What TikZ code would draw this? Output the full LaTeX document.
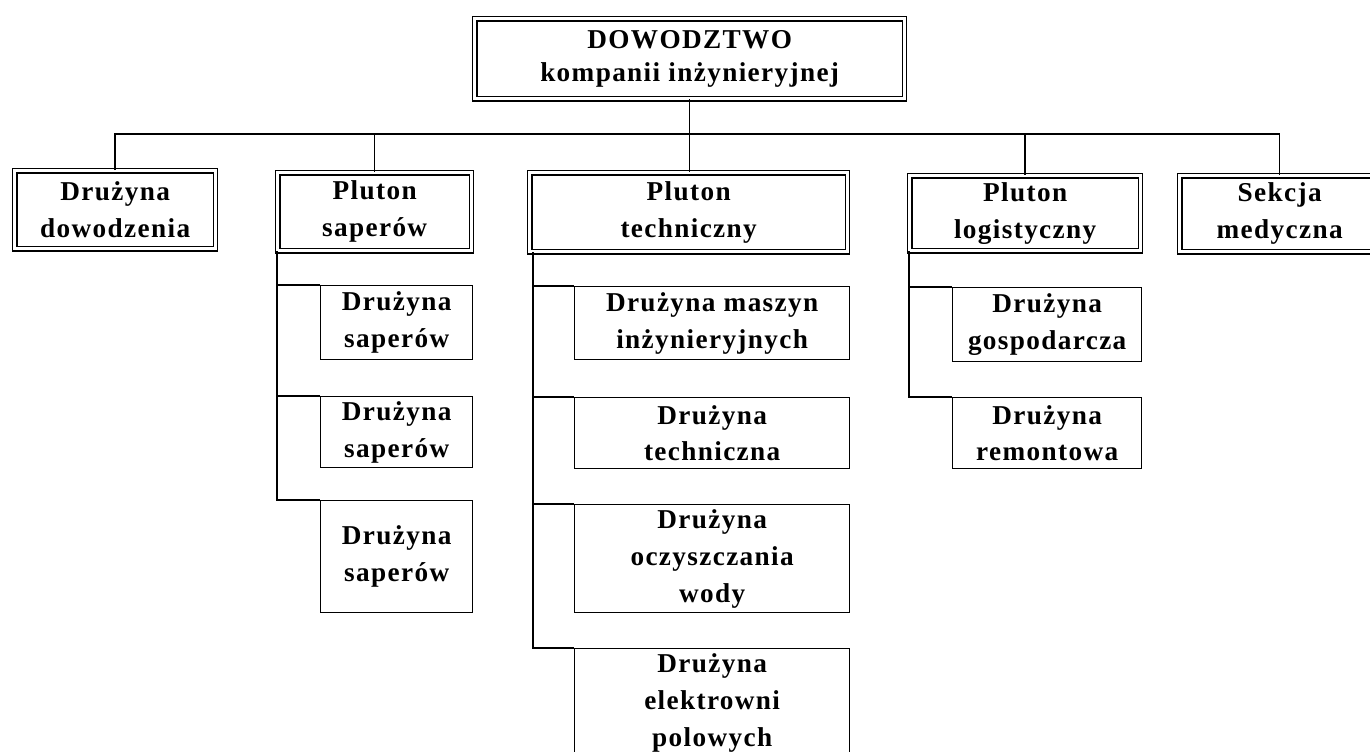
\documentclass[tikz,border=0pt]{standalone}
\usepackage{fontspec}
\setmainfont[LetterSpace=5]{Liberation Serif}
\usetikzlibrary{positioning}

\begin{document}
\begin{tikzpicture}[x=0.02cm, y=-0.02cm]
    \tikzstyle{unit} = [shape=rectangle, draw, line width=0.8pt, align=center, anchor=north west,
        inner sep=0pt, font=\bfseries\fontsize{15.5}{21}\selectfont]
    \tikzstyle{head} = [unit, double, double distance=1.6pt]
    \tikzstyle{link} = [line width=0.9pt]

    \useasboundingbox (0, 0) rectangle (1370, 751);
    \clip (0, 0) rectangle (1370, 751);

    \node[head, minimum width=8.6cm, minimum height=1.6cm,
        font=\bfseries\fontsize{15.5}{19}\selectfont] (top) at (474, 18)
        {DOWODZTWO\\kompanii inżynieryjnej};

    \node[head, minimum width=4.02cm, minimum height=1.56cm] (dd) at (14, 170)   {Drużyna\\dowodzenia};
    \node[head, minimum width=3.88cm, minimum height=1.56cm] (ps) at (277, 172)  {Pluton\\saperów};
    \node[head, minimum width=6.36cm, minimum height=1.58cm] (pt) at (529, 172)  {Pluton\\techniczny};
    \node[head, minimum width=4.62cm, minimum height=1.50cm] (pl) at (909, 175)  {Pluton\\logistyczny};
    \node[head, minimum width=4.00cm, minimum height=1.52cm] (sm) at (1179, 175) {Sekcja\\medyczna};

        \node[unit, minimum width=3.04cm, minimum height=1.48cm] (ps1) at (320, 285) {Drużyna\\saperów};
        \node[unit, minimum width=3.04cm, minimum height=1.42cm] (ps2) at (320, 396) {Drużyna\\saperów};
        \node[unit, minimum width=3.04cm, minimum height=2.24cm] (ps3) at (320, 500) {Drużyna\\saperów};

        \node[unit, minimum width=5.5cm, minimum height=1.46cm] (pt1) at (574, 286) {Drużyna maszyn\\inżynieryjnych};
        \node[unit, minimum width=5.5cm, minimum height=1.42cm] (pt2) at (574, 397) {Drużyna\\techniczna};
        \node[unit, minimum width=5.5cm, minimum height=2.16cm] (pt3) at (574, 504) {Drużyna\\oczyszczania\\wody};
        \node[unit, minimum width=5.5cm, minimum height=2.16cm] (pt4) at (574, 648) {Drużyna\\elektrowni\\polowych};

        \node[unit, minimum width=3.78cm, minimum height=1.48cm] (pl1) at (952, 287) {Drużyna\\gospodarcza};
        \node[unit, minimum width=3.78cm, minimum height=1.42cm] (pl2) at (952, 397) {Drużyna\\remontowa};

    \coordinate (bus) at (689, 134);
    \draw[link] (top.south) -- (top.south |- pt.north);
    \foreach \n in {dd, ps, pl, sm}
        \draw[link] (\n.north) |- (bus);

    \foreach \n in {ps1, ps2, ps3}
        \draw[link] (ps.south west) |- (\n.north west);
    \foreach \n in {pt1, pt2, pt3, pt4}
        \draw[link] ([xshift=0.8mm]pt.south west) |- (\n.north west);
    \foreach \n in {pl1, pl2}
        \draw[link] (pl.south west) |- (\n.north west);

\end{tikzpicture}
\end{document}
